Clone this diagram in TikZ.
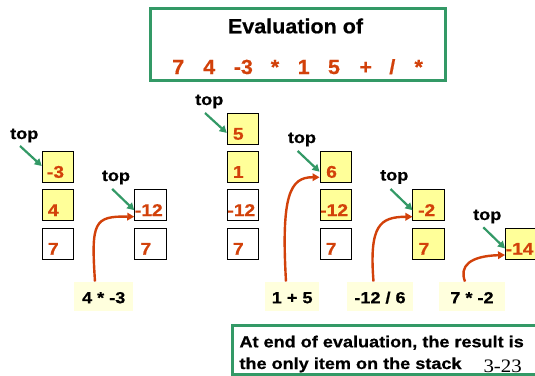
\documentclass[tikz,border=0pt]{standalone}
\usepackage{fontspec}
\setmainfont{Liberation Sans}[FakeStretch=1.13, FakeBold=0.6]
\newfontfamily\headfont{Liberation Sans}[FakeStretch=1.05, FakeBold=0.6]
\newfontfamily\pagenofont{Liberation Serif}[FakeStretch=1.1]
\usetikzlibrary{arrows.meta,calc}

\definecolor{slidegreen}{RGB}{51,153,102}
\definecolor{numred}{RGB}{210,65,10}
\definecolor{cellyellow}{RGB}{255,255,153}
\definecolor{notecream}{RGB}{255,255,221}

\tikzset{
  cellbox/.style={draw=black, line width=1pt, minimum width=31.5pt, minimum height=31.5pt, inner sep=0pt},
  celltext/.style={font=\fontsize{17}{17}\selectfont\bfseries, text=numred, inner sep=0pt, anchor=base west},
  toplabel/.style={font=\fontsize{16}{16}\selectfont\bfseries, inner sep=0pt, anchor=base west},
  topptr/.style={draw=slidegreen, line width=2.2pt, -{Triangle[length=7pt,width=7.5pt]}},
  opptr/.style={draw=numred, line width=2.4pt, -{Triangle[length=7pt,width=7.5pt]}},
  opnote/.style={fill=notecream, inner sep=0pt, minimum height=29pt, text height=14pt, text depth=0pt,
                 font=\fontsize{16}{16}\selectfont\bfseries},
  framebox/.style={draw=slidegreen, line width=2.7pt, inner sep=0pt},
  exprtok/.style={font=\headfont\fontsize{20.5}{20.5}\selectfont\bfseries, text=numred, inner sep=0pt, anchor=base},
  notetext/.style={font=\fontsize{16}{16}\selectfont\bfseries, inner sep=0pt, anchor=base west},
}

% one stack cell: name, x, y, fill, text inset, value
\newcommand\stackcell[6]{%
  \node[cellbox, fill=#4] (#1) at (#2,#3) {};
  \node[celltext] (#1t) at ($(#1.west)+(#5,10.8)$) {#6};}

\begin{document}
\begin{tikzpicture}[x=1pt, y=-1pt]
\clip (0,0) rectangle (535,375);
\fill[white] (0,0) rectangle (535,375);

% heading
\node[framebox, minimum width=295pt, minimum height=72pt] (titlebox) at (298.2,44.7) {};
\node[font=\headfont\fontsize{20.5}{20.5}\selectfont\bfseries, anchor=base, inner sep=0pt] (title) at (295.5,33.3) {Evaluation of};
\node[exprtok] (e1) at (178.3,74) {7};
\node[exprtok] (e2) at (209.2,74) {4};
\node[exprtok] (e3) at (243.3,74) {-3};
\node[exprtok] (e4) at (275,74) {*};
\node[exprtok] (e5) at (303.7,74) {1};
\node[exprtok] (e6) at (334,74) {5};
\node[exprtok] (e7) at (365.7,74) {+};
\node[exprtok] (e8) at (392.3,74) {/};
\node[exprtok] (e9) at (418.7,74) {*};

% stack 1
\stackcell{s1b}{58}{167}{cellyellow}{5}{-3}
\stackcell{s1c}{58}{205.2}{cellyellow}{6}{4}
\stackcell{s1d}{58}{243.9}{white}{6}{7}
% stack 2
\stackcell{s2c}{150.5}{205.2}{white}{0.5}{-12}
\stackcell{s2d}{150.5}{243.9}{white}{6}{7}
% stack 3
\stackcell{s3a}{243}{128.9}{cellyellow}{6}{5}
\stackcell{s3b}{243}{167}{cellyellow}{6}{1}
\stackcell{s3c}{243}{205.2}{white}{0.5}{-12}
\stackcell{s3d}{243}{243.9}{white}{6}{7}
% stack 4
\stackcell{s4b}{335.8}{167}{cellyellow}{6.5}{6}
\stackcell{s4c}{335.8}{205.2}{cellyellow}{0.5}{-12}
\stackcell{s4d}{335.8}{243.9}{white}{6}{7}
% stack 5
\stackcell{s5c}{428.7}{205.2}{cellyellow}{5.5}{-2}
\stackcell{s5d}{428.7}{243.9}{cellyellow}{6}{7}
% stack 6
\stackcell{s6d}{521.3}{243.9}{cellyellow}{0.5}{-14}

% top-of-stack markers
\node[toplabel] (t1) at (10,139) {top};
\node[toplabel] (t2) at (101.7,181) {top};
\node[toplabel] (t3) at (195,105) {top};
\node[toplabel] (t4) at (287.7,143) {top};
\node[toplabel] (t5) at (380,180.5) {top};
\node[toplabel] (t6) at (473,220) {top};
\draw[topptr] ($(t1.base west)+(10,7)$) -- ($(s1b.west)+(0,-1)$);
\draw[topptr] ($(t2.base west)+(10.5,8)$) -- ($(s2c.west)+(0,5)$);
\draw[topptr] ($(t3.base west)+(10,8)$) -- ($(s3a.west)+(0,4)$);
\draw[topptr] ($(t4.base west)+(10,8)$) -- ($(s4b.west)+(0,4.7)$);
\draw[topptr] ($(t5.base west)+(10.5,8.5)$) -- ($(s5c.west)+(0,5)$);
\draw[topptr] ($(t6.base west)+(10.3,7.3)$) -- ($(s6d.west)+(0,4.5)$);

% operations
\node[opnote, minimum width=59.3pt] (l1) at (103.7,296.2) {4 * -3};
\node[opnote, minimum width=54.3pt] (l2) at (292.2,296.2) {1 + 5};
\node[opnote, minimum width=65.4pt] (l3) at (380,296.2) {-12 / 6};
\node[opnote, minimum width=66pt] (l4) at (472,296.2) {7 * -2};
\draw[opptr] ($(l1.north)+(-8.7,0)$) .. controls (91,222) and (94,216) .. ($(s2c.west)+(0,11.5)$);
\draw[opptr] ($(l2.north)+(-6.2,0)$) .. controls (281,195) and (290,177) .. ($(s4b.west)+(0,10.3)$);
\draw[opptr] ($(l3.north)+(-6.5,0)$) .. controls (369,225) and (380,217) .. ($(s5c.west)+(0,11.5)$);
\draw[opptr] ($(l4.north)+(-7,0)$) .. controls (459,266) and (470,256) .. ($(s6d.west)+(0,11.1)$);

% closing note
\node[framebox, minimum width=312.8pt, minimum height=48.9pt] (notebox) at (388.6,349.75) {};
\node[notetext] (n1) at (239.3,347.3) {At end of evaluation, the result is};
\node[notetext] (n2) at (239.3,369) {the only item on the stack};
\node[font=\pagenofont\fontsize{19}{19}\selectfont, inner sep=0pt, anchor=base west] (pageno) at (483.3,372.3) {3-23};
\end{tikzpicture}
\end{document}
